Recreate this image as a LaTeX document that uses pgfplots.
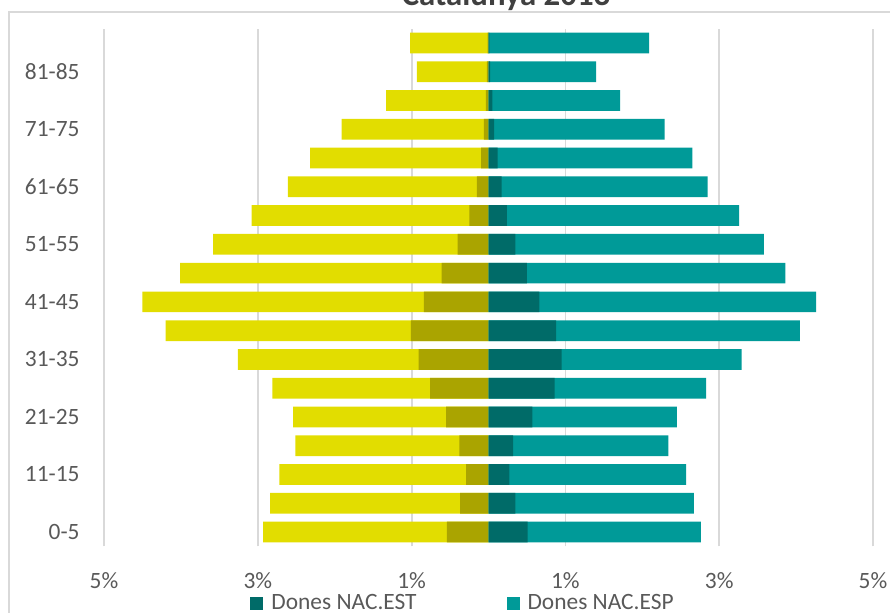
\documentclass[border=0pt]{standalone}
\usepackage{pgfplots}
\pgfplotsset{compat=1.18}
\usepackage{pgfplotstable}
\usepackage{fontspec}
\setmainfont{Carlito}
\definecolor{myel}{HTML}{E2DD00}
\definecolor{dyel}{HTML}{AAA400}
\definecolor{teal1}{HTML}{009A98}
\definecolor{dteal}{HTML}{006B68}
\definecolor{gridc}{HTML}{D9D9D9}
\definecolor{labc}{HTML}{595959}
\definecolor{titc}{HTML}{404040}

\pgfplotstableread{
idx mest mesp dest desp
0  0.54  2.39  0.51  2.25
1  0.37  2.47  0.35  2.32
2  0.29  2.43  0.27  2.30
3  0.38  2.13  0.32  2.02
4  0.55  1.99  0.57  1.88
5  0.76  2.05  0.86  1.97
6  0.91  2.35  0.95  2.34
7  1.01  3.19  0.88  3.17
8  0.84  3.66  0.66  3.60
9  0.61  3.40  0.50  3.36
10 0.40  3.18  0.35  3.23
11 0.25  2.83  0.24  3.02
12 0.15  2.46  0.17  2.68
13 0.095 2.225 0.117 2.533
14 0.06  1.85  0.074 2.216
15 0.035 1.295 0.05  1.66
16 0.02  0.91  0.02  1.38
17 0.01  1.01  0.01  2.08
}\pyr

\begin{document}
\begin{tikzpicture}
\useasboundingbox (-52pt,-32.8pt) rectangle (393pt,273.2pt);
\clip (-52pt,-32.8pt) rectangle (393pt,273.2pt);
\draw[gridc, line width=0.75pt] (-47.5pt,-200pt) -- (-47.5pt,267.2pt) -- (600pt,267.2pt);
\begin{axis}[
  at={(0pt,0pt)}, anchor=south west,
  scale only axis, width=384.5pt, height=258.9pt,
  xmin=-5, xmax=5, ymin=-0.5, ymax=17.5,
  xtick={-5,-3,-1,1,3,5},
  xticklabels={5\%,3\%,1\%,1\%,3\%,5\%},
  ytick={0,2,...,16},
  yticklabels={0-5,11-15,21-25,31-35,41-45,51-55,61-65,71-75,81-85},
  xmajorgrids, major grid style={gridc, line width=0.9pt},
  axis line style={draw=none}, major tick length=0pt,
  tick label style={font=\fontsize{11.7}{14}\selectfont, text=labc},
  xticklabel style={inner sep=0pt, yshift=-12.8pt},
  yticklabel style={inner sep=0pt, xshift=-12pt, anchor=east},
  every axis title shift=0pt,
  title={Catalunya 2013},
  title style={at={(axis description cs:0.5228,1.044)}, anchor=base, yshift=0pt, font=\fontsize{16.4}{19}\selectfont\bfseries, text=titc, inner sep=0pt},
  legend style={at={(axis description cs:0.1899,-0.111)}, anchor=west, draw=none, fill=none, inner sep=0pt,
    font=\fontsize{11.7}{14}\selectfont, text=labc, nodes={inner sep=0pt},
    /tikz/every odd column/.append style={column sep=4pt},
    /tikz/every even column/.append style={column sep=45pt}},
  legend columns=2, legend cell align=left,
  legend image code/.code={\fill[#1] (0pt,-3.25pt) rectangle (6.5pt,3.25pt);},
]
\addplot[xbar, bar shift=0pt, bar width=0.72, fill=myel, draw=none, forget plot]
  table[y=idx, x expr={-(\thisrow{mest}+\thisrow{mesp})}] {\pyr};
\addplot[xbar, bar shift=0pt, bar width=0.72, fill=dyel, draw=none, forget plot]
  table[y=idx, x expr={-\thisrow{mest}}] {\pyr};
\addplot[xbar, bar shift=0pt, bar width=0.72, fill=teal1, draw=none, forget plot]
  table[y=idx, x expr={\thisrow{dest}+\thisrow{desp}}] {\pyr};
\addplot[xbar, bar shift=0pt, bar width=0.72, fill=dteal, draw=none, forget plot]
  table[y=idx, x=dest] {\pyr};
\addlegendimage{fill=dteal, draw=none}
\addlegendentry{Dones NAC.EST}
\addlegendimage{fill=teal1, draw=none}
\addlegendentry{Dones NAC.ESP}
\end{axis}
\end{tikzpicture}
\end{document}
